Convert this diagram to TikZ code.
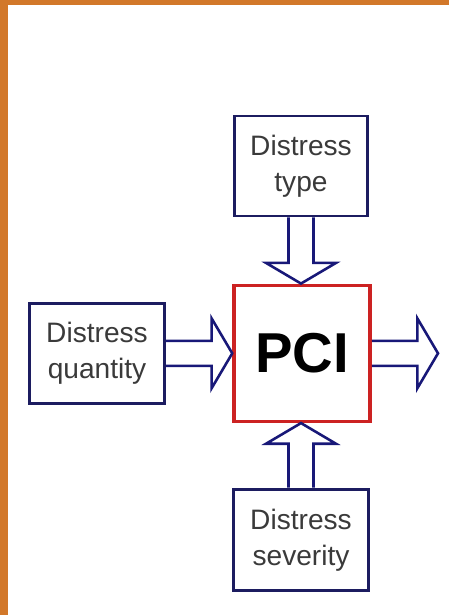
\documentclass[tikz,border=0pt]{standalone}
\usepackage{fontspec}
\setsansfont{Liberation Sans}
\definecolor{pci_navy}{RGB}{28, 28, 96}
\definecolor{pci_blue}{RGB}{24, 24, 120}
\definecolor{pci_red}{RGB}{204, 34, 34}
\definecolor{pci_orange}{RGB}{210, 120, 42}
\definecolor{pci_text}{RGB}{58, 58, 58}
\usepackage{tikz}
\usetikzlibrary{calc}

\begin{document}
\begin{tikzpicture}[font=\sffamily,
    box/.style={draw=pci_navy, line width=2.5pt, align=center, text=pci_text,
                minimum width=4.0cm, minimum height=3.0cm,
                font=\sffamily\fontsize{24}{31}\selectfont},
    blockarrow/.style={draw=pci_blue, line width=2.2pt, to path={
        ($(\tikztostart)!0.375cm!90:(\tikztotarget)$)
        -- ($ ($(\tikztotarget)!0.62cm!(\tikztostart)$) !0.375cm!90:(\tikztotarget) $)
        -- ($ ($(\tikztotarget)!0.62cm!(\tikztostart)$) !1.05cm!90:(\tikztotarget) $)
        -- (\tikztotarget)
        -- ($ ($(\tikztotarget)!0.62cm!(\tikztostart)$) !1.05cm!-90:(\tikztotarget) $)
        -- ($ ($(\tikztotarget)!0.62cm!(\tikztostart)$) !0.375cm!-90:(\tikztotarget) $)
        -- ($(\tikztostart)!0.375cm!-90:(\tikztotarget)$)}}]
  % frame
  \useasboundingbox (0,0) rectangle (13.47,18.45);
  \fill[pci_orange] (0,0) rectangle (0.24,18.45);
  \fill[pci_orange] (0,18.3) rectangle (13.47,18.45);
  % boxes
  \node[box] (b1) at (9.03,13.47) {Distress\\type};
  \node[box, minimum width=4.05cm] (b2) at (2.91,7.85) {Distress\\quantity};
  \node[box, minimum width=4.05cm, minimum height=3.05cm] (b3) at (9.03,2.25) {Distress\\severity};
  \node[draw=pci_red, line width=3pt, minimum width=4.08cm, minimum height=4.08cm,
        font=\sffamily\bfseries\fontsize{48}{48}\selectfont] (pci) at (9.06,7.85) {PCI};
  \coordinate (out) at (13.14,7.85);
  % arrows
  \draw[blockarrow] (b1.south) to (b1.south |- pci.north);
  \draw[blockarrow] (b2.east) to (b2.east -| pci.west);
  \draw[blockarrow] (b3.north) to (b3.north |- pci.south);
  \draw[blockarrow] (pci.east) to (out);
\end{tikzpicture}
\end{document}
